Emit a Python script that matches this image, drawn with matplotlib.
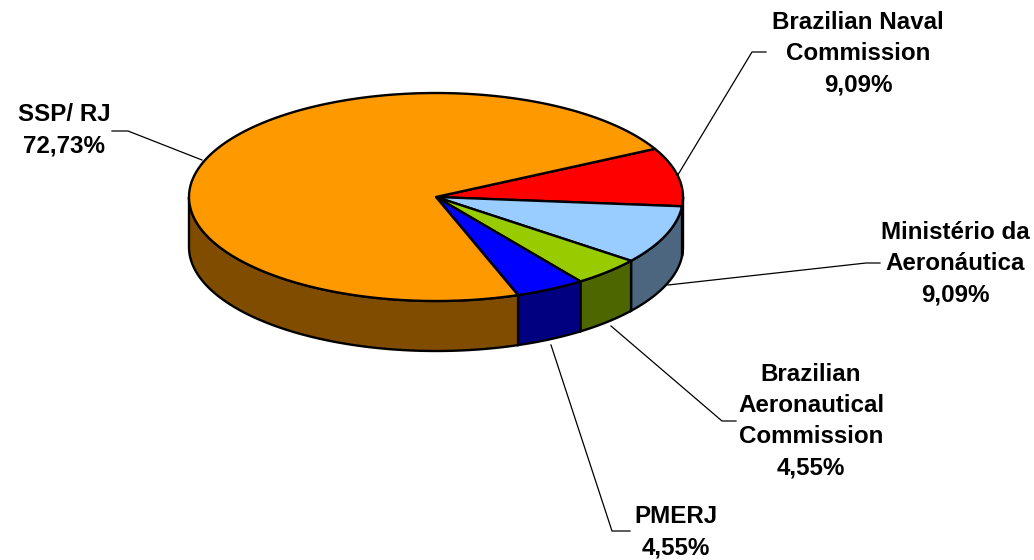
import numpy as np
import matplotlib
matplotlib.use('Agg')
import matplotlib.pyplot as plt

# slices clockwise, starting from the red one
labels = ['Brazilian Naval\nCommission\n9,09%', 'Ministério da\nAeronáutica\n9,09%',
          'Brazilian\nAeronautical\nCommission\n4,55%', 'PMERJ\n4,55%', 'SSP/ RJ\n72,73%']
values = [9.09, 9.09, 4.55, 4.55, 72.73]
top_colors = ['#FF0000', '#99CCFF', '#99CC00', '#0000FF', '#FF9900']
side_colors = ['#800000', '#4D6680', '#4D6600', '#000080', '#804D00']

W, H = 1034, 560
CX, CY = 436, 197
RX, RY = 247, 104
DEPTH = 50
START = 27.6

plt.rcParams['font.family'] = ['Liberation Sans', 'DejaVu Sans']
fig = plt.figure(figsize=(W / 100, H / 100), dpi=100)
ax = fig.add_axes([0, 0, 1, 1])
ax.set_xlim(0, W)
ax.set_ylim(H, 0)
ax.axis('off')

edges = START - np.cumsum([0] + values) / sum(values) * 360


def arc(a0, a1, dy=0):
    t = np.radians(np.linspace(a0, a1, 200))
    return CX + RX * np.cos(t), CY - RY * np.sin(t) + dy


# side wall, only the part facing front
for i in range(len(values)):
    p0, p1 = min(edges[i], 0), max(edges[i + 1], -180)
    if p0 <= p1:
        continue
    x, y = arc(p0, p1)
    xb, yb = arc(p1, p0, DEPTH)
    ax.fill(np.r_[x, xb], np.r_[y, yb], fc=side_colors[i], ec='black', lw=1.7, zorder=2)

# top face
for i in range(len(values)):
    x, y = arc(edges[i], edges[i + 1])
    ax.fill(np.r_[CX, x], np.r_[CY, y], fc=top_colors[i], ec='black', lw=1.7,
            joinstyle='round', zorder=3)

# leader lines
leaders = [
    ([676, 752, 766], [178, 52, 52]),
    ([668, 866, 880], [285, 263, 263]),
    ([611, 722, 736], [326, 421, 421]),
    ([551, 612, 630], [345, 531, 531]),
    ([202, 128, 112], [160, 131, 131]),
]
for lx, ly in leaders:
    ax.plot(lx, ly, color='black', lw=0.9, zorder=1)

text_pos = [(858, 54), (955, 264), (811, 421), (676, 532), (64, 130)]
for s, (tx, ty) in zip(labels, text_pos):
    ax.text(tx, ty, s, ha='center', va='center', fontsize=17.4, fontweight='bold',
            color='black', linespacing=1.45, zorder=5)

fig.savefig('out.png', dpi=100)
